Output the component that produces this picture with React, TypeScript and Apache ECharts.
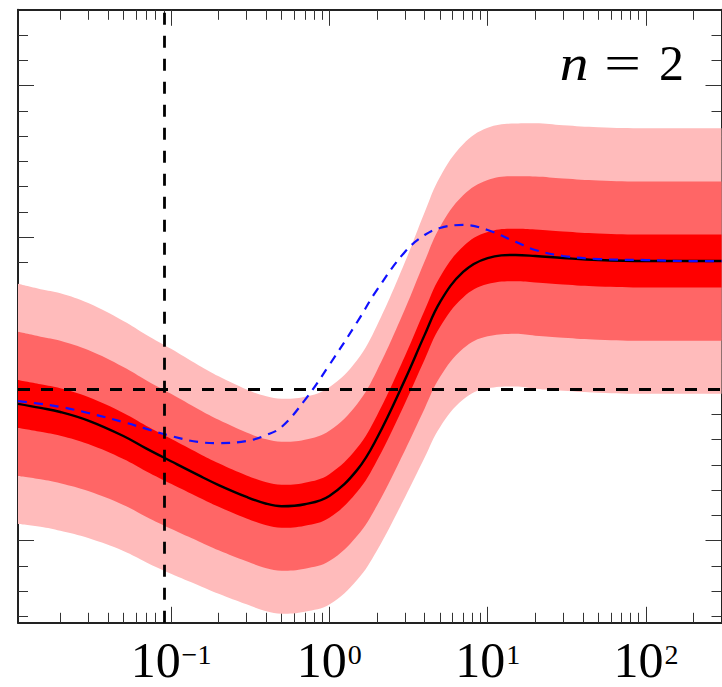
import React, { useEffect, useRef } from "react";
import * as echarts from "echarts";

// x sample positions (log axis)
const xValues = [0.0108, 0.015, 0.02, 0.03, 0.05, 0.07, 0.1, 0.15, 0.2, 0.3, 0.4, 0.5, 0.7, 1, 1.5, 2, 3, 4, 5, 7, 10, 15, 20, 30, 50, 100, 200, 300];
// median (black solid)
const medianValues = [-0.59, -0.75, -0.91, -1.25, -1.86, -2.36, -2.86, -3.42, -3.8, -4.27, -4.54, -4.64, -4.56, -4.23, -3.2, -1.94, 0.36, 2.14, 3.44, 4.63, 5.18, 5.3, 5.26, 5.18, 5.1, 5.06, 5.06, 5.06];
// blue dashed curve
const blueValues = [-0.48, -0.59, -0.71, -0.95, -1.31, -1.58, -1.86, -2.1, -2.14, -2.06, -1.82, -1.5, -0.44, 0.95, 2.65, 3.92, 5.42, 6.09, 6.37, 6.49, 6.29, 5.82, 5.5, 5.26, 5.14, 5.1, 5.06, 5.06];
// band unit half-width
const sigmaValues = [0.95, 0.94, 0.94, 0.93, 0.91, 0.9, 0.89, 0.87, 0.86, 0.85, 0.85, 0.85, 0.85, 0.86, 0.87, 0.89, 0.93, 0.97, 0.99, 1.01, 1.03, 1.04, 1.05, 1.05, 1.05, 1.05, 1.05, 1.05];
const bandWidths = [5, 3, 1];
const bandColors = ["#ffbbbb", "#ff6666", "#ff0000"];

const xMajorTicks = [0.1, 1, 10, 100];
const xMinorTicks = [0.02, 0.03, 0.04, 0.05, 0.06, 0.07, 0.08, 0.09, 0.2, 0.3, 0.4, 0.5, 0.6, 0.7, 0.8, 0.9, 2, 3, 4, 5, 6, 7, 8, 9, 20, 30, 40, 50, 60, 70, 80, 90, 200];
const yMajorTicks = [-6, 0, 6, 12];
const yMinorTicks = [-9, -8, -7, -5, -4, -3, -2, -1, 1, 2, 3, 4, 5, 7, 8, 9, 10, 11, 13, 14];
const refX = 0.09;
const refY = 0;
const annotation = ["n", "=", "2"];

const X_MIN = 0.0108;
const X_MAX = 300;
const Y_MIN = -9.25;
const Y_MAX = 15;

const SERIF = "'Liberation Serif', 'DejaVu Serif', serif";
const SPINE = { show: true, onZero: false, lineStyle: { color: "#222", width: 2 } };

function xAxisDef(position: string, ticks: number[], len: number, line: boolean, labels: boolean) {
  return {
    type: "log",
    logBase: 10,
    min: X_MIN,
    max: X_MAX,
    position,
    axisLine: line ? SPINE : { show: false, onZero: false },
    axisTick: { show: true, inside: true, length: len, customValues: ticks, lineStyle: { color: "#333", width: 1 } },
    axisLabel: labels
      ? {
          show: true,
          customValues: xMajorTicks,
          margin: 22,
          formatter: (v: number) => {
            const e = Math.round(Math.log10(v));
            const s = e < 0 ? "\u2212" + Math.abs(e) : String(e);
            return "{b|10}{s|" + s + "}";
          },
          rich: {
            b: { fontFamily: SERIF, fontSize: 50, lineHeight: 40, color: "#000", verticalAlign: "bottom" },
            s: { fontFamily: SERIF, fontSize: 28, lineHeight: 18, color: "#000", verticalAlign: "bottom", padding: [0, 0, 16, 1] },
          },
        }
      : { show: false },
    splitLine: { show: false },
    minorTick: { show: false },
  };
}

function yAxisDef(position: string, ticks: number[], len: number, line: boolean) {
  return {
    type: "value",
    min: Y_MIN,
    max: Y_MAX,
    position,
    axisLine: line ? SPINE : { show: false, onZero: false },
    axisTick: { show: true, inside: true, length: len, customValues: ticks, lineStyle: { color: "#333", width: 1 } },
    axisLabel: { show: false },
    splitLine: { show: false },
  };
}

export default function App() {
  const ref = useRef<HTMLDivElement>(null);
  useEffect(() => {
    if (!ref.current) return;
    const chart = echarts.init(ref.current, undefined, { renderer: "svg" });

    // rows are [y, x] so that the stacked dimension is y; encode maps them back
    const series: any[] = [];
    bandWidths.forEach((k, bi) => {
      const stack = "band" + k;
      series.push({
        type: "line",
        stack,
        stackStrategy: "all",
        encode: { x: 1, y: 0 },
        data: xValues.map((x, i) => [medianValues[i] - k * sigmaValues[i], x]),
        smooth: 0.4,
        symbol: "none",
        silent: true,
        lineStyle: { width: 0, opacity: 0 },
      });
      series.push({
        type: "line",
        stack,
        stackStrategy: "all",
        encode: { x: 1, y: 0 },
        data: xValues.map((x, i) => [2 * k * sigmaValues[i], x]),
        smooth: 0.4,
        symbol: "none",
        silent: true,
        lineStyle: { width: 0, opacity: 0 },
        areaStyle: { color: bandColors[bi], opacity: 1 },
      });
    });
    series.push({
      type: "line",
      data: xValues.map((x, i) => [x, medianValues[i]]),
      smooth: 0.4,
      symbol: "none",
      silent: true,
      lineStyle: { color: "#000", width: 2.4 },
      markLine: {
        silent: true,
        symbol: ["none", "none"],
        label: { show: false },
        lineStyle: { color: "#000", width: 2.8, type: [12, 11] },
        data: [{ xAxis: refX }, { yAxis: refY }],
      },
    });
    series.push({
      type: "line",
      data: xValues.map((x, i) => [x, blueValues[i]]),
      smooth: 0.4,
      symbol: "none",
      silent: true,
      lineStyle: { color: "#1010ff", width: 2.2, type: [9, 7] },
    });

    chart.setOption({
      animation: false,
      backgroundColor: "#fff",
      grid: { left: 18, right: 0.5, top: 9.8, bottom: 64.2 },
      xAxis: [
        xAxisDef("bottom", xMajorTicks, 16, true, true),
        xAxisDef("bottom", xMinorTicks, 10, false, false),
        xAxisDef("top", xMajorTicks, 16, true, false),
        xAxisDef("top", xMinorTicks, 10, false, false),
      ],
      yAxis: [
        yAxisDef("left", yMajorTicks, 16, true),
        yAxisDef("left", yMinorTicks, 10, false),
        yAxisDef("right", yMajorTicks, 16, true),
        yAxisDef("right", yMinorTicks, 10, false),
      ],
      series,
      graphic: [
        {
          type: "text",
          x: 574,
          y: 63,
          scaleX: 1.15,
          z: 100,
          style: { text: annotation[0], fontFamily: SERIF, fontStyle: "italic", fontSize: 50, fill: "#000", align: "center", verticalAlign: "middle" },
        },
        {
          type: "text",
          x: 622.5,
          y: 63,
          scaleX: 1.3,
          z: 100,
          style: { text: annotation[1], fontFamily: SERIF, fontSize: 50, fill: "#000", align: "center", verticalAlign: "middle" },
        },
        {
          type: "text",
          x: 671.5,
          y: 63,
          z: 100,
          style: { text: annotation[2], fontFamily: SERIF, fontSize: 50, fill: "#000", align: "center", verticalAlign: "middle" },
        },
      ],
    });
    return () => chart.dispose();
  }, []);
  return <div ref={ref} style={{ position: "absolute", left: 0, top: 0, width: 722, height: 687 }} />;
}
